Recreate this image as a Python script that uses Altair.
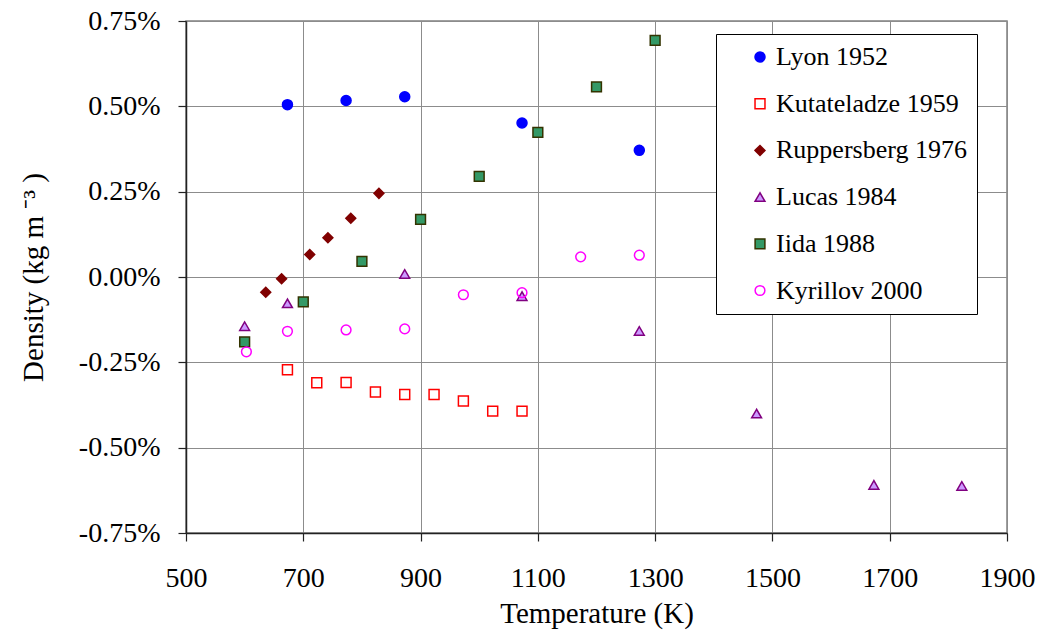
import altair as alt
import pandas as pd

# Relative density deviation of liquid samples against temperature, by source
series_order = [
    "Lyon 1952",
    "Kutateladze 1959",
    "Ruppersberg 1976",
    "Lucas 1984",
    "Iida 1988",
    "Kyrillov 2000",
]

lyon_T = [673, 773, 873, 1073, 1273]
lyon_d = [0.505, 0.517, 0.528, 0.451, 0.371]

kutateladze_T = [673, 723, 773, 823, 873, 923, 973, 1023, 1073]
kutateladze_d = [-0.272, -0.310, -0.309, -0.337, -0.344, -0.344, -0.363, -0.393, -0.393]

ruppersberg_T = [636, 663, 711, 742, 781, 829]
ruppersberg_d = [-0.045, -0.005, 0.066, 0.115, 0.172, 0.245]

lucas_T = [600, 673, 873, 1073, 1273, 1473, 1673, 1823]
lucas_d = [-0.144, -0.077, 0.009, -0.056, -0.158, -0.400, -0.609, -0.612]

iida_T = [600, 700, 800, 900, 1000, 1100, 1200, 1300]
iida_d = [-0.190, -0.073, 0.046, 0.169, 0.295, 0.424, 0.557, 0.693]

kyrillov_T = [603, 673, 773, 873, 973, 1073, 1173, 1273]
kyrillov_d = [-0.219, -0.159, -0.155, -0.152, -0.052, -0.046, 0.059, 0.064]

x_ticks = [500, 700, 900, 1100, 1300, 1500, 1700, 1900]
y_ticks = [-0.0075, -0.005, -0.0025, 0.0, 0.0025, 0.005, 0.0075]

# marker styling per series
shapes = ["circle", "square", "diamond", "triangle-up", "square", "circle"]
fills = ["#0000FF", "transparent", "#800000", "#CC99FF", "#339966", "transparent"]
strokes = ["#0000FF", "#FF0000", "#800000", "#800080", "#333300", "#FF00FF"]
sizes = [100, 95, 100, 115, 105, 270]

frames = []
for name, T, d in [
    ("Lyon 1952", lyon_T, lyon_d),
    ("Kutateladze 1959", kutateladze_T, kutateladze_d),
    ("Ruppersberg 1976", ruppersberg_T, ruppersberg_d),
    ("Lucas 1984", lucas_T, lucas_d),
    ("Iida 1988", iida_T, iida_d),
    ("Kyrillov 2000", kyrillov_T, kyrillov_d),
]:
    frames.append(pd.DataFrame({"series": name, "T": T, "density": [v / 100 for v in d]}))
df = pd.concat(frames, ignore_index=True)

FONT = "Liberation Serif"

legend = alt.Legend(
    title=None,
    orient="none",
    legendX=530,
    legendY=13,
    strokeColor="#000000",
    fillColor="#FFFFFF",
    padding=10,
    labelFont=FONT,
    labelFontSize=26,
    labelColor="#000000",
    labelLimit=400,
    labelOffset=3,
    rowPadding=20.7,
    symbolOffset=21,
    symbolStrokeWidth=1.5,
)

chart = (
    alt.Chart(df)
    .mark_point(filled=True, opacity=1, strokeWidth=1.5)
    .encode(
        x=alt.X(
            "T:Q",
            scale=alt.Scale(domain=[500, 1900], nice=False, zero=False),
            axis=alt.Axis(
                values=x_ticks,
                format="d",
                labelFlush=False,
                title="Temperature (K)",
                titleY=89,
                titleBaseline="alphabetic",
                labelBaseline="alphabetic",
                labelPadding=45,
            ),
        ),
        y=alt.Y(
            "density:Q",
            scale=alt.Scale(domain=[-0.0075, 0.0075], nice=False, zero=False),
            axis=alt.Axis(
                values=y_ticks,
                labelExpr="replace(format(datum.value, '.2%'), '\u2212', '-')",
                labelFlush=False,
                title="Density (kg m ⁻³ )",
                titleX=-153,
                titleY=256,
                titleBaseline="middle",
                titleAlign="center",
                labelPadding=18,
            ),
        ),
        shape=alt.Shape("series:N", scale=alt.Scale(domain=series_order, range=shapes), sort=series_order, legend=legend),
        fill=alt.Fill("series:N", scale=alt.Scale(domain=series_order, range=fills), sort=series_order, legend=legend),
        stroke=alt.Stroke("series:N", scale=alt.Scale(domain=series_order, range=strokes), sort=series_order, legend=legend),
        size=alt.Size("series:N", scale=alt.Scale(domain=series_order, range=sizes), sort=series_order, legend=legend),
    )
    .properties(
        width=821,
        height=512,
        background="#FFFFFF",
        autosize=alt.AutoSizeParams(type="none"),
        padding={"left": 186, "top": 21, "right": 34, "bottom": 98},
    )
    .configure_view(stroke="#808080", strokeWidth=1.5)
    .configure_axis(
        labelFont=FONT,
        labelFontSize=28,
        labelColor="#000000",
        titleFont=FONT,
        titleFontSize=29,
        titleFontWeight="normal",
        titleColor="#000000",
        domainColor="#222222",
        domainWidth=1.5,
        tickColor="#222222",
        tickSize=8,
        tickWidth=1.2,
        gridColor="#8C8C8C",
        gridWidth=1,
    )
)

chart.save("out.html", embed_options={"renderer": "svg", "actions": False})
